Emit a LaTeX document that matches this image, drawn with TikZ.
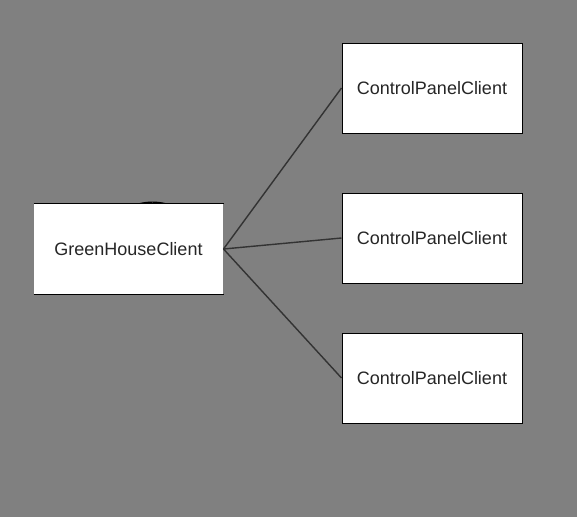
\documentclass[tikz,border=0pt]{standalone}
\usepackage{fontspec}
\setmainfont{Liberation Sans}
\begin{document}
\begin{tikzpicture}[x=1pt,y=-1pt,
  box/.style={fill=white,draw=black,line width=1pt,minimum width=180pt,minimum height=90pt,inner sep=0pt,font=\fontsize{18}{21}\selectfont,text=black!85},
  conn/.style={draw=black!80,line width=1.4pt}]
\fill[fill=black!50] (0,0) rectangle (577,517);
\useasboundingbox (0,0) rectangle (577,517);
\draw[black,line width=1.2pt] (138,204) .. controls (148,201.5) and (157,201.5) .. (167,204);
\node[box,draw=none,minimum width=189pt] (g) at (128.5,249) {GreenHouseClient};
\draw[black,line width=1pt] (g.north west) -- (g.north east) (g.south west) -- (g.south east);
\node[box] (c1) at (432,88) {ControlPanelClient};
\node[box] (c2) at (432,238) {ControlPanelClient};
\node[box] (c3) at (432,378) {ControlPanelClient};
\draw[conn] (g.east) -- (c1.west);
\draw[conn] (g.east) -- (c2.west);
\draw[conn] (g.east) -- (c3.west);
\end{tikzpicture}
\end{document}
